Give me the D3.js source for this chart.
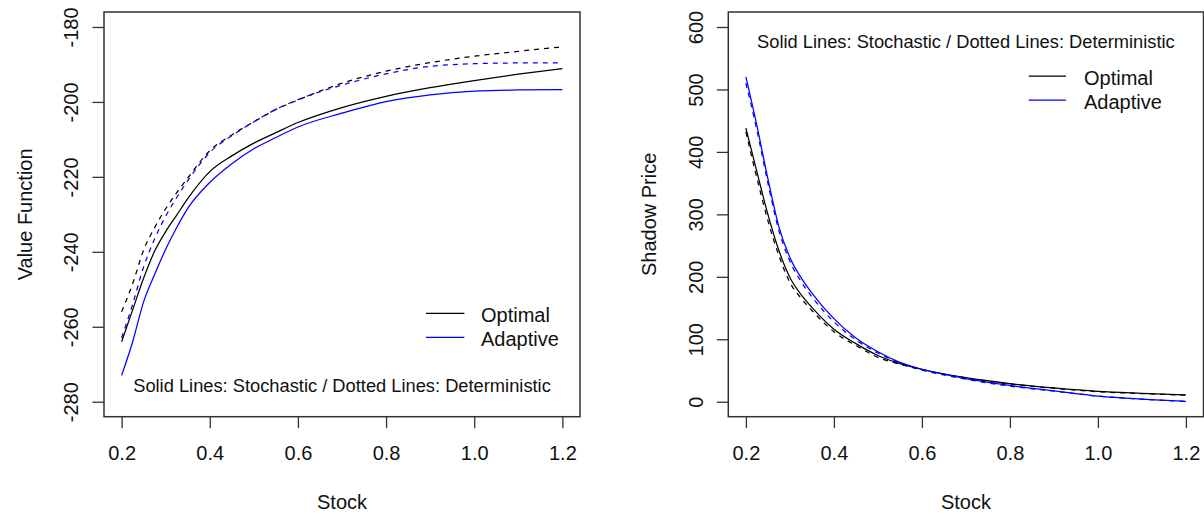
<!DOCTYPE html>
<html>
<head>
<meta charset="utf-8">
<script src="https://cdn.jsdelivr.net/npm/d3@7"></script>
<style>
  body { margin: 0; background: #fff; }
  svg { display: block; font-family: "Liberation Sans", Arial, sans-serif; }
</style>
</head>
<body>
<div id="container"></div>
<script>
const stock = [0.2, 0.225, 0.25, 0.275, 0.3, 0.325, 0.35, 0.4, 0.45, 0.5, 0.55, 0.6, 0.7, 0.8, 0.9, 1.0, 1.1, 1.2];
const xTicks = [0.2, 0.4, 0.6, 0.8, 1.0, 1.2];

// left panel: value function
const vfOptimalStoch = [-264, -255.5, -247, -239.8, -234.6, -230.2, -225.8, -218.6, -214.4, -211, -208.2, -205.5, -201.5, -198.5, -196.2, -194.3, -192.6, -191.1];
const vfAdaptiveStoch = [-273, -264, -253.3, -246, -239.3, -233.5, -228.4, -221.5, -216.5, -212.5, -209.5, -206.7, -203, -199.9, -198.1, -197.1, -196.8, -196.7];
const vfOptimalDet = [-256, -248.5, -239.5, -233.5, -228.5, -224.2, -220.3, -213, -208.8, -205.3, -202, -199.5, -195, -191.8, -189.5, -187.8, -186.5, -185.3];
const vfAdaptiveDet = [-263, -254, -244, -236.5, -230.5, -225.5, -221, -213.5, -209, -205.3, -202, -199.4, -195.5, -192.5, -190.5, -189.8, -189.6, -189.6];
const vfTicks = [-280, -260, -240, -220, -200, -180];

// right panel: shadow price
const spOptimalStoch = [438, 368, 300, 242, 199, 172, 151, 116, 93, 74, 61, 52, 38.5, 29, 22, 16.5, 13.5, 11];
const spAdaptiveStoch = [520, 442, 357, 280, 231, 199, 174, 133, 102, 80, 63, 52, 37, 26, 17.5, 9, 4, 0.5];
const spOptimalDet = [432, 358, 290, 234, 191, 166, 146, 112, 90, 71, 60, 51, 38, 28.5, 21.5, 16, 13, 10.5];
const spAdaptiveDet = [510, 435, 350, 274, 225, 193, 168, 128, 99, 78, 62, 51, 36, 25, 17, 9, 4, 0.5];
const spTicks = [0, 100, 200, 300, 400, 500, 600];

const legendLabels = ["Optimal", "Adaptive"];
const legendColors = ["#000000", "#0000ff"];
const note = "Solid Lines: Stochastic / Dotted Lines: Deterministic";

const width = 1204;
const height = 514;
const fontSize = 20;

const svg = d3.select("#container")
              .append("svg")
              .attr("width", width)
              .attr("height", height);
svg.append("rect").attr("width", width).attr("height", height).attr("fill", "#fff");

const panels = [
  {
    left: 104, right: 580, top: 12, bot: 416.7,
    yDomain: [-284, -176], yTicks: vfTicks, yLabel: "Value Function",
    series: [
      {values: vfOptimalDet, color: legendColors[0], dash: "5,5"},
      {values: vfAdaptiveDet, color: legendColors[1], dash: "5,5"},
      {values: vfOptimalStoch, color: legendColors[0], dash: null},
      {values: vfAdaptiveStoch, color: legendColors[1], dash: null}
    ],
    legend: {x: 426, x2: 464.4, tx: 481, y: 313.3},
    noteY: 391.5
  },
  {
    left: 728.3, right: 1203.5, top: 12, bot: 416.7,
    yDomain: [-24, 624], yTicks: spTicks, yLabel: "Shadow Price",
    series: [
      {values: spOptimalDet, color: legendColors[0], dash: "5,5"},
      {values: spAdaptiveDet, color: legendColors[1], dash: "5,5"},
      {values: spOptimalStoch, color: legendColors[0], dash: null},
      {values: spAdaptiveStoch, color: legendColors[1], dash: null}
    ],
    legend: {x: 1028.7, x2: 1066, tx: 1084, y: 76},
    noteY: 48.2
  }
];

panels.forEach((p) => {
  const g = svg.append("g");
  const xScale = d3.scaleLinear().domain([0.16, 1.24]).range([p.left, p.right]);
  const yScale = d3.scaleLinear().domain(p.yDomain).range([p.bot, p.top]);
  const midX = (p.left + p.right) / 2;
  const midY = (p.top + p.bot) / 2;

  const line = d3.line()
                 .curve(d3.curveMonotoneX)
                 .x((d) => xScale(d[0]))
                 .y((d) => yScale(d[1]));
  p.series.forEach((s) => {
    g.append("path")
     .datum(stock.map((x, i) => [x, s.values[i]]))
     .attr("d", line)
     .attr("fill", "none")
     .attr("stroke", s.color)
     .attr("stroke-width", 1.25)
     .attr("stroke-dasharray", s.dash);
  });

  // x axis
  const xAxis = d3.axisBottom(xScale)
                  .tickValues(xTicks)
                  .tickFormat(d3.format(".1f"))
                  .tickSize(11.5)
                  .tickPadding(18);
  const xg = g.append("g")
              .attr("transform", "translate(0, " + p.bot + ")")
              .call(xAxis);
  xg.select(".domain").remove();
  xg.selectAll("line").attr("stroke", "#333").attr("stroke-width", 1.3);
  xg.selectAll("text").attr("font-size", fontSize).attr("fill", "#111").attr("font-family", null);

  // y axis, labels rotated like R's default, plain hyphen for negatives
  const yAxis = d3.axisLeft(yScale)
                  .tickValues(p.yTicks)
                  .tickFormat((d) => String(d))
                  .tickSize(11.5);
  const yg = g.append("g")
              .attr("transform", "translate(" + p.left + ", 0)")
              .call(yAxis);
  yg.select(".domain").remove();
  yg.selectAll("line").attr("stroke", "#333").attr("stroke-width", 1.3);
  yg.selectAll("text")
    .attr("x", null)
    .attr("dy", null)
    .attr("text-anchor", "middle")
    .attr("transform", "translate(-25.7, 0) rotate(-90)")
    .attr("font-size", fontSize)
    .attr("fill", "#111")
    .attr("font-family", null);

  g.append("rect")
   .attr("x", p.left)
   .attr("y", p.top)
   .attr("width", p.right - p.left)
   .attr("height", p.bot - p.top)
   .attr("fill", "none")
   .attr("stroke", "#333")
   .attr("stroke-width", 1.5);

  g.append("text")
   .text("Stock")
   .attr("x", midX)
   .attr("y", 509)
   .attr("text-anchor", "middle")
   .attr("font-size", fontSize)
   .attr("fill", "#111");
  g.append("text")
   .text(p.yLabel)
   .attr("text-anchor", "middle")
   .attr("transform", "translate(" + (p.left - 72) + ", " + midY + ")rotate(-90)")
   .attr("font-size", fontSize)
   .attr("fill", "#111");

  g.append("text")
   .text(note)
   .attr("x", midX)
   .attr("y", p.noteY)
   .attr("text-anchor", "middle")
   .attr("font-size", 18.3)
   .attr("fill", "#111");

  legendLabels.forEach((label, i) => {
    const ly = p.legend.y + i * 24;
    g.append("line")
     .attr("x1", p.legend.x)
     .attr("x2", p.legend.x2)
     .attr("y1", ly)
     .attr("y2", ly)
     .attr("stroke", legendColors[i])
     .attr("stroke-width", 1.25);
    g.append("text")
     .text(label)
     .attr("x", p.legend.tx)
     .attr("y", ly + 9)
     .attr("font-size", fontSize)
     .attr("fill", "#111");
  });
});
</script>
</body>
</html>
